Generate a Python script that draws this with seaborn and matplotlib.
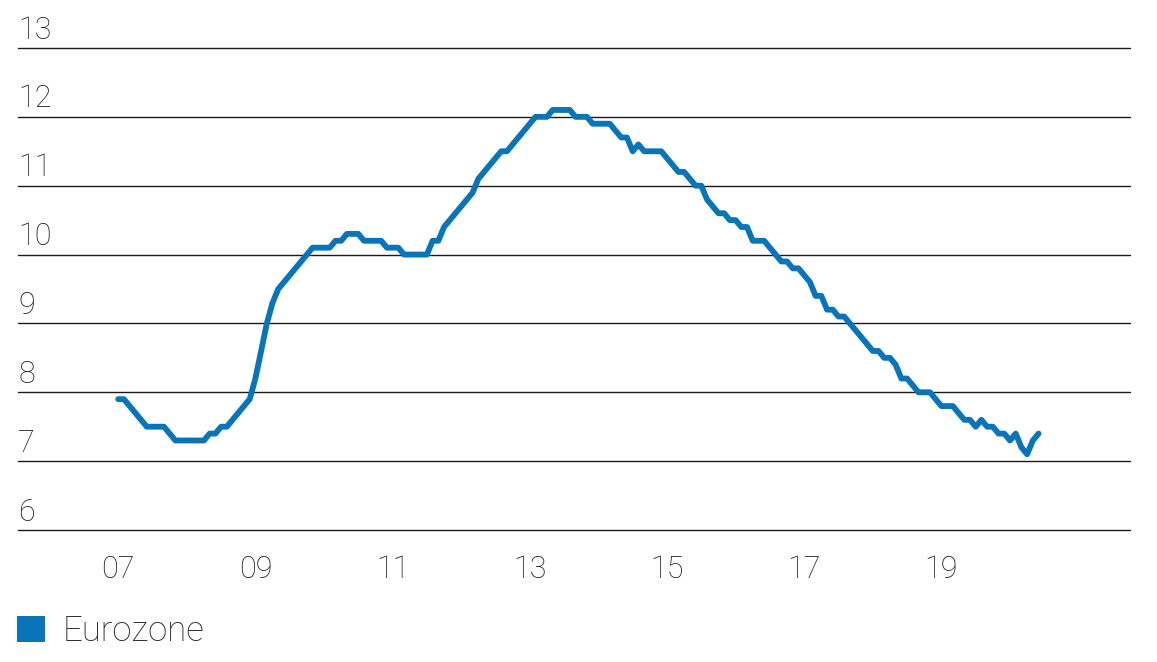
import matplotlib
matplotlib.use("Agg")
import matplotlib.pyplot as plt
import matplotlib.transforms as mtransforms
from matplotlib.patches import Patch
import numpy as np
import pandas as pd
import seaborn as sns

# monthly unemployment rate, Eurozone, Jan 2007 - Jun 2020
y2007 = [7.9, 7.9, 7.8, 7.7, 7.6, 7.5, 7.5, 7.5, 7.5, 7.4, 7.3, 7.3]
y2008 = [7.3, 7.3, 7.3, 7.3, 7.4, 7.4, 7.5, 7.5, 7.6, 7.7, 7.8, 7.9]
y2009 = [8.2, 8.6, 9.0, 9.3, 9.5, 9.6, 9.7, 9.8, 9.9, 10.0, 10.1, 10.1]
y2010 = [10.1, 10.1, 10.2, 10.2, 10.3, 10.3, 10.3, 10.2, 10.2, 10.2, 10.2, 10.1]
y2011 = [10.1, 10.1, 10.0, 10.0, 10.0, 10.0, 10.0, 10.2, 10.2, 10.4, 10.5, 10.6]
y2012 = [10.7, 10.8, 10.9, 11.1, 11.2, 11.3, 11.4, 11.5, 11.5, 11.6, 11.7, 11.8]
y2013 = [11.9, 12.0, 12.0, 12.0, 12.1, 12.1, 12.1, 12.1, 12.0, 12.0, 12.0, 11.9]
y2014 = [11.9, 11.9, 11.9, 11.8, 11.7, 11.7, 11.5, 11.6, 11.5, 11.5, 11.5, 11.5]
y2015 = [11.4, 11.3, 11.2, 11.2, 11.1, 11.0, 11.0, 10.8, 10.7, 10.6, 10.6, 10.5]
y2016 = [10.5, 10.4, 10.4, 10.2, 10.2, 10.2, 10.1, 10.0, 9.9, 9.9, 9.8, 9.8]
y2017 = [9.7, 9.6, 9.4, 9.4, 9.2, 9.2, 9.1, 9.1, 9.0, 8.9, 8.8, 8.7]
y2018 = [8.6, 8.6, 8.5, 8.5, 8.4, 8.2, 8.2, 8.1, 8.0, 8.0, 8.0, 7.9]
y2019 = [7.8, 7.8, 7.8, 7.7, 7.6, 7.6, 7.5, 7.6, 7.5, 7.5, 7.4, 7.4]
y2020 = [7.3, 7.4, 7.2, 7.1, 7.3, 7.4]

rates = (y2007 + y2008 + y2009 + y2010 + y2011 + y2012 + y2013
         + y2014 + y2015 + y2016 + y2017 + y2018 + y2019 + y2020)
start_year = 2007
x_ticks = [2007, 2009, 2011, 2013, 2015, 2017, 2019]
x_labels = ["07", "09", "11", "13", "15", "17", "19"]
y_ticks = [6, 7, 8, 9, 10, 11, 12, 13]
series_name = "Eurozone"

blue = "#0a74b9"
ink = "#1a1a1a"

df = pd.DataFrame({"year": start_year + np.arange(len(rates)) / 12.0,
                   "rate": rates})

sns.set_theme(style="white")
plt.rcParams["font.family"] = ["Roboto", "DejaVu Sans"]

fig = plt.figure(figsize=(11.57, 6.62), dpi=100)
ax = fig.add_axes([0.0156, 0.1994, 0.9611, 0.7281])

sns.lineplot(data=df, x="year", y="rate", color=blue, lw=4.2,
             solid_capstyle="round", solid_joinstyle="round", ax=ax)

ax.set_xlim(2005.54, 2021.75)
ax.set_ylim(6, 13)
for v in y_ticks:
    ax.axhline(v, color=ink, lw=1.0, zorder=0, clip_on=False)

ax.set_yticks(y_ticks)
ax.set_yticklabels([])
ax.tick_params(axis="y", length=0)
trans = mtransforms.blended_transform_factory(ax.transAxes, ax.transData)
offset = mtransforms.ScaledTranslation(0, 2.5 / 72, fig.dpi_scale_trans)
for v in y_ticks:
    ax.text(0.0, v, str(v), transform=trans + offset, ha="left", va="bottom",
            fontsize=22, color=ink, fontweight="light")

ax.set_xticks(x_ticks)
ax.set_xticklabels(x_labels, fontsize=22, color=ink, fontweight="light")
ax.tick_params(axis="x", length=0, pad=18)
ax.set_xlabel("")
ax.set_ylabel("")
sns.despine(ax=ax, left=True, bottom=True)

handle = Patch(facecolor=blue, edgecolor="none", label=series_name)
fig.legend(handles=[handle], loc="lower left",
           bbox_to_anchor=(17 / 1157, 14 / 662),
           frameon=False, handlelength=0.8, handleheight=0.8,
           handletextpad=0.5, borderaxespad=0, borderpad=0,
           prop={"size": 25, "weight": "light"})

fig.savefig("out.png", dpi=100)
